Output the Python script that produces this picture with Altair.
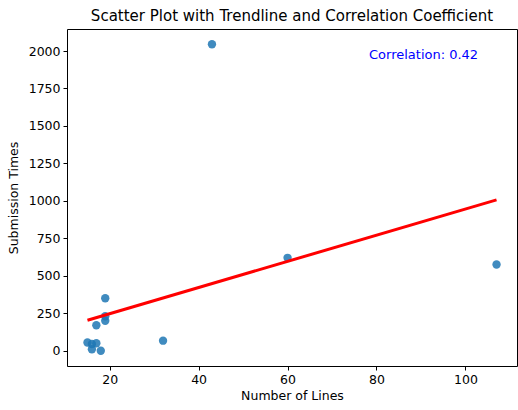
import altair as alt
import pandas as pd

lines = [15, 16, 16, 17, 18, 17, 19, 19, 19, 32, 43, 60, 107]
times = [55, 45, 10, 50, 0, 170, 200, 230, 350, 67, 2045, 620, 575]
corr_label = "Correlation: 0.42"

df = pd.DataFrame({"lines": lines, "times": times})

FONT = "DejaVu Sans"

xs = alt.Scale(domain=[10.4, 111.6], nice=False, zero=False)
ys = alt.Scale(domain=[-102, 2147], nice=False, zero=False)

base = alt.Chart(df)

points = base.mark_circle(size=70, color="#1f77b4", opacity=0.85).encode(
    x=alt.X("lines:Q", scale=xs, title="Number of Lines",
            axis=alt.Axis(values=[20, 40, 60, 80, 100], format="d")),
    y=alt.Y("times:Q", scale=ys, title="Submission Times",
            axis=alt.Axis(values=list(range(0, 2001, 250)), format="d")),
)

trend = base.transform_regression("lines", "times").mark_line(
    color="red", strokeWidth=3
).encode(x=alt.X("lines:Q", scale=xs), y=alt.Y("times:Q", scale=ys))

label = alt.Chart(pd.DataFrame({"t": [corr_label]})).mark_text(
    color="blue", align="left", baseline="middle", fontSize=13, font=FONT
).encode(text="t:N", x=alt.value(302), y=alt.value(26))

chart = (points + trend + label).properties(
    width=450, height=337,
    title=alt.TitleParams("Scatter Plot with Trendline and Correlation Coefficient",
                          fontSize=15, font=FONT, fontWeight="normal", color="black", offset=5),
    autosize=alt.AutoSizeParams(type="none"),
    padding={"left": 67, "top": 29, "right": 1, "bottom": 44},
).configure_view(stroke="black", strokeWidth=1).configure_axis(
    grid=False, domain=False, labelFont=FONT, titleFont=FONT, labelFontSize=12.5,
    titleFontSize=12.5, titleFontWeight="normal", labelColor="black", titleColor="black",
    tickColor="black", tickSize=4, labelPadding=3,
).configure_axisY(titlePadding=8).configure_axisX(titlePadding=4)

chart.save("out.html", embed_options={"renderer": "svg", "actions": False})
